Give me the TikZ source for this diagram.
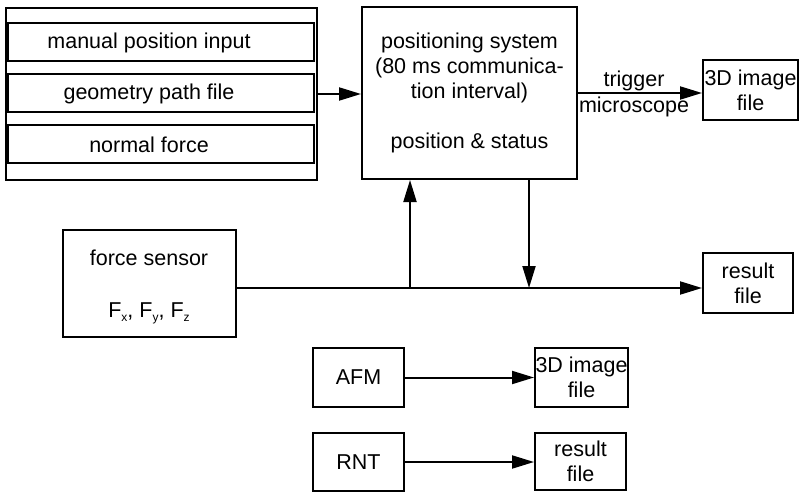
\documentclass[tikz,border=0pt]{standalone}
\usepackage{fontspec}
\setmainfont{Liberation Sans}
\usetikzlibrary{arrows.meta}
\newcommand\fsz{\fontsize{21.5}{25}\selectfont}
\newcommand\sbs[1]{\raisebox{-4pt}{\fontsize{12}{12}\selectfont #1}}
\begin{document}
\begin{tikzpicture}[x=1pt,y=-1pt,
  box/.style={draw, line width=2pt, inner sep=0pt, align=center, font=\fsz},
  txt/.style={inner sep=0pt, align=center, font=\fsz},
  arr/.style={-{Triangle[length=22pt,width=13pt]}, line width=2pt}]
\useasboundingbox[fill=white] (0,0) rectangle (800,492);
% input group
\node[box, minimum width=311pt, minimum height=172pt] (outer) at (161.5,94) {};
\node[box, minimum width=306pt, minimum height=38pt] (in1) at (161,42) {};
\node[box, minimum width=306pt, minimum height=38pt] (in2) at (161,93) {};
\node[box, minimum width=306pt, minimum height=38pt] (in3) at (161,144) {};
\node[txt] (t1) at (149,42.5) {manual position input};
\node[txt] (t2) at (149,93.5) {geometry path file};
\node[txt] (t3) at (149,144.5) {normal force};
% positioning system
\node[box, minimum width=215pt, minimum height=172pt] (pos) at (469.5,93)
  {positioning system\\(80 ms communica-\\tion interval)\\[25pt]position \& status};
% top 3D image file
\node[box, minimum width=95pt, minimum height=60pt] (img1) at (750.5,90) {3D image\\file};
\node[txt] (trig) at (634,81) {trigger};
\node[txt] (micr) at (634,107) {microscope};
% force sensor
\node[box, minimum width=173pt, minimum height=107pt] (fs) at (149.5,283.5) {};
\node[txt] (fst) at (149,258) {force sensor};
\node[txt] (fxyz) at (149,313) {F\sbs{x}, F\sbs{y}, F\sbs{z}};
% result file right
\node[box, minimum width=90pt, minimum height=60pt] (res1) at (748,283) {result\\file};
% AFM / RNT
\node[box, minimum width=91pt, minimum height=59pt] (afm) at (358.5,377.5) {AFM};
\node[box, minimum width=91pt, minimum height=58pt] (rnt) at (358.5,462) {RNT};
\node[box, minimum width=93pt, minimum height=59pt] (img2) at (581.5,377.5) {3D image\\file};
\node[box, minimum width=91pt, minimum height=57pt] (res2) at (580.5,461.5) {result\\file};
% junctions
\coordinate (jup) at (410,288);
\coordinate (jdn) at (529,288);
% connectors
\draw[arr] (outer.east) -- (outer.east -| pos.west);
\draw[arr] (pos.east) -- (pos.east -| img1.west);
\draw[arr] (fs.east |- jup) -- (jup -| res1.west);
\draw[arr] (jup) -- (jup |- pos.south);
\draw[arr] (jdn |- pos.south) -- (jdn);
\draw[arr] (afm.east) -- (afm.east -| img2.west);
\draw[arr] (rnt.east) -- (rnt.east -| res2.west);
\end{tikzpicture}
\end{document}
